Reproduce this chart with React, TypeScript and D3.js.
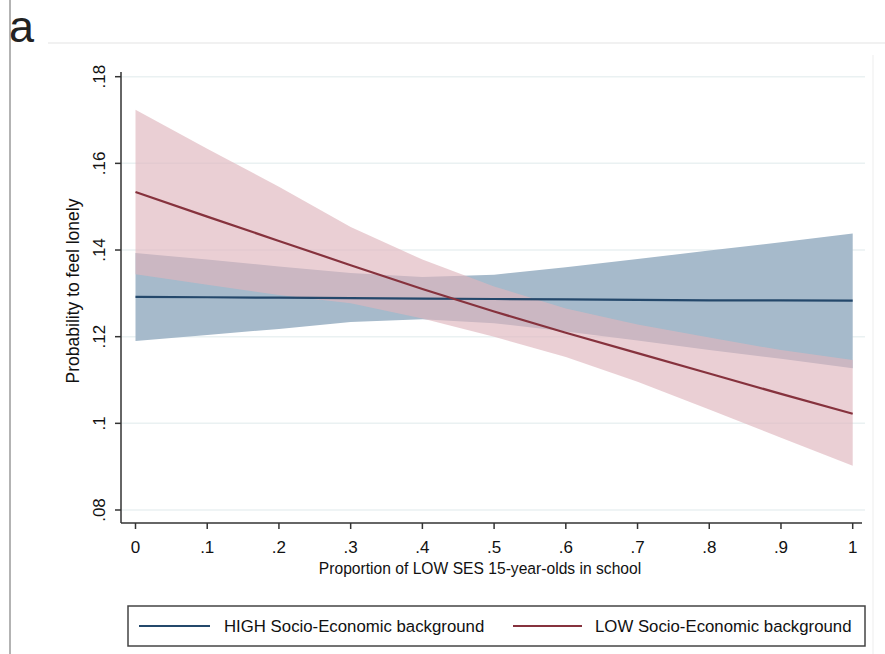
import React from 'react';
import * as d3 from 'd3';

// share of LOW SES pupils in school
const xValues = [0, 0.1, 0.2, 0.3, 0.4, 0.5, 0.6, 0.7, 0.8, 0.9, 1];

// HIGH socio-economic background
const highMid = [0.1292, 0.1291, 0.129, 0.1289, 0.1288, 0.1287, 0.1286, 0.1285, 0.1284, 0.1284, 0.1283];
const highUpper = [0.1393, 0.1378, 0.1362, 0.1347, 0.1338, 0.1343, 0.136, 0.1379, 0.1399, 0.1418, 0.1438];
const highLower = [0.119, 0.1204, 0.1218, 0.1234, 0.124, 0.1231, 0.1212, 0.1191, 0.1169, 0.1149, 0.1127];

// LOW socio-economic background
const lowMid = [0.1534, 0.1477, 0.1421, 0.1365, 0.131, 0.1258, 0.1209, 0.1162, 0.1115, 0.1068, 0.1022];
const lowUpper = [0.1724, 0.1634, 0.1546, 0.1453, 0.1378, 0.1316, 0.1265, 0.1228, 0.1198, 0.1169, 0.1146];
const lowLower = [0.1344, 0.132, 0.1296, 0.1277, 0.1242, 0.12, 0.1153, 0.1096, 0.1032, 0.0967, 0.0902];

const xTicks = [0, 0.1, 0.2, 0.3, 0.4, 0.5, 0.6, 0.7, 0.8, 0.9, 1];
const xTickLabels = ['0', '.1', '.2', '.3', '.4', '.5', '.6', '.7', '.8', '.9', '1'];
const yTicks = [0.08, 0.1, 0.12, 0.14, 0.16, 0.18];
const yTickLabels = ['.08', '.1', '.12', '.14', '.16', '.18'];

const legendLabels = ['HIGH Socio-Economic background', 'LOW Socio-Economic background'];

const FONT = '"Liberation Sans", Arial, Helvetica, sans-serif';
const BLUE = '#24486b';
const RED = '#86323d';

export default function App() {
    const width = 885;
    const height = 654;

    const x = d3.scaleLinear().domain([0, 1]).range([135.5, 852.7]);
    const y = d3.scaleLinear().domain([0.08, 0.18]).range([510, 76.7]);

    const area = (upper: number[], lower: number[]) =>
        d3.area<number>()
            .x((d) => x(d))
            .y0((_, i) => y(lower[i]))
            .y1((_, i) => y(upper[i]))(xValues) || '';

    const line = (vals: number[]) =>
        d3.line<number>()
            .x((d) => x(d))
            .y((_, i) => y(vals[i]))(xValues) || '';

    const axisLeft = 121;
    const axisBottom = 523;
    const legendY = 626;

    return (
        <svg width={width} height={height} style={{ position: 'absolute', left: 0, top: 0, background: '#fff' }}>
            {/* panel frame */}
            <line x1={10} x2={10} y1={0} y2={height} stroke="#9a9a9a" strokeWidth={1.5} />
            <line x1={48} x2={885} y1={43} y2={43} stroke="#ececec" strokeWidth={1.5} />
            <line x1={873} x2={873} y1={55} y2={654} stroke="#f3f3f3" strokeWidth={1.5} />
            <text x={9} y={42} fontFamily={FONT} fontSize={45} fill="#222">a</text>

            {/* grid */}
            {yTicks.map((t) => (
                <line key={t} x1={axisLeft} x2={865} y1={y(t)} y2={y(t)} stroke="#eaf1f2" strokeWidth={1.5} />
            ))}

            {/* confidence bands */}
            <path d={area(highUpper, highLower)} fill="#a6bacb" />
            <path d={area(lowUpper, lowLower)} fill="#dfb5bd" fillOpacity={0.65} />

            {/* fitted lines */}
            <path d={line(highMid)} fill="none" stroke={BLUE} strokeWidth={2.2} />
            <path d={line(lowMid)} fill="none" stroke={RED} strokeWidth={2.2} />

            {/* y axis */}
            <line x1={axisLeft} x2={axisLeft} y1={72} y2={axisBottom} stroke="#333" strokeWidth={1.5} />
            {yTicks.map((t, i) => (
                <g key={t} transform={`translate(${axisLeft},${y(t)})`}>
                    <line x1={-6} x2={0} stroke="#333" strokeWidth={1.5} />
                    <text transform="translate(-16.5,0) rotate(-90)" textAnchor="middle"
                        fontFamily={FONT} fontSize={17} fill="#111">{yTickLabels[i]}</text>
                </g>
            ))}
            <text transform={`translate(79,291) rotate(-90)`} textAnchor="middle"
                fontFamily={FONT} fontSize={17.5} fill="#111">Probability to feel lonely</text>

            {/* x axis */}
            <line x1={axisLeft} x2={862} y1={axisBottom} y2={axisBottom} stroke="#333" strokeWidth={1.5} />
            {xTicks.map((t, i) => (
                <g key={t} transform={`translate(${x(t)},${axisBottom})`}>
                    <line y1={0} y2={6} stroke="#333" strokeWidth={1.5} />
                    <text y={30} textAnchor="middle" fontFamily={FONT} fontSize={17} fill="#111">{xTickLabels[i]}</text>
                </g>
            ))}
            <text transform="translate(480,574) scale(0.92,1)" textAnchor="middle" fontFamily={FONT} fontSize={17} fill="#111">
                Proportion of LOW SES 15-year-olds in school
            </text>

            {/* legend */}
            <rect x={128} y={606} width={737} height={40} fill="#fff" stroke="#444" strokeWidth={1.5} />
            <line x1={139} x2={210} y1={legendY} y2={legendY} stroke={BLUE} strokeWidth={2} />
            <text x={224} y={legendY + 6} fontFamily={FONT} fontSize={16.8} fill="#111">{legendLabels[0]}</text>
            <line x1={513} x2={582} y1={legendY} y2={legendY} stroke={RED} strokeWidth={2} />
            <text x={595} y={legendY + 6} fontFamily={FONT} fontSize={16.8} fill="#111">{legendLabels[1]}</text>
        </svg>
    );
}
